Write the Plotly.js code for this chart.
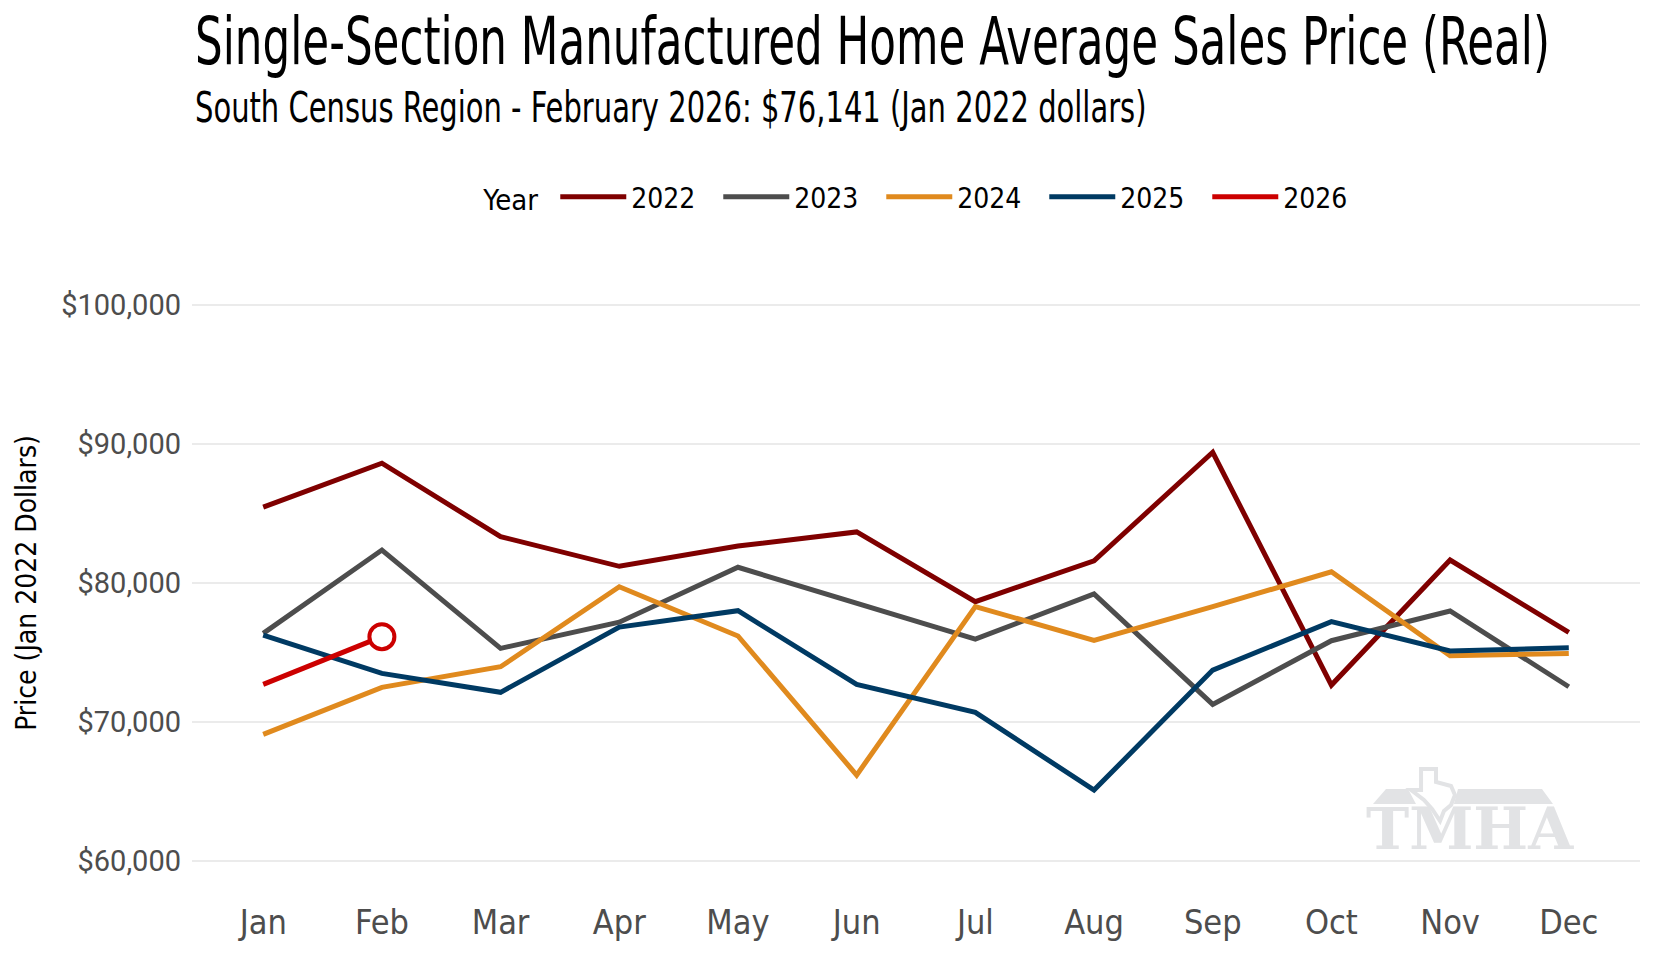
<!DOCTYPE html>
<html>
<head>
<meta charset="utf-8">
<script src="https://cdn.plot.ly/plotly-3.0.1.min.js"></script>
<style>
  html, body { margin: 0; padding: 0; background: #fff; }
  #chart { width: 1660px; height: 960px; }
</style>
</head>
<body>
<div id="chart"></div>
<script>
// monthly average sales price, Jan 2022 dollars
const months = ["Jan", "Feb", "Mar", "Apr", "May", "Jun", "Jul", "Aug", "Sep", "Oct", "Nov", "Dec"];
const years = ["2022", "2023", "2024", "2025", "2026"];
const price2022 = [85450, 88610, 83330, 81200, 82660, 83670, 78660, 81600, 89400, 72660, 81650, 76450];
const price2023 = [76380, 82370, 75300, 77180, 81130, 78580, 75970, 79210, 71270, 75850, 77990, 72540];
const price2024 = [69120, 72500, 73980, 79730, 76190, 66190, 78300, 75880, 78300, 80810, 74770, 74940];
const price2025 = [76260, 73500, 72140, 76830, 78010, 72710, 70700, 65110, 73740, 77220, 75110, 75350];
const price2026 = [72710, 76141];
const yTicks = [60000, 70000, 80000, 90000, 100000];

const colors = ["#7f0000", "#4d4d4d", "#e08a1e", "#003a63", "#cc0000"];
const series = [price2022, price2023, price2024, price2025, price2026];
const FONT = "'DejaVu Sans Condensed', 'DejaVu Sans', sans-serif";
const W = 1660, H = 960;
const M = { l: 192, r: 20, t: 277, b: 71 };

const traces = series.map((vals, i) => ({
  x: months.slice(0, vals.length),
  y: vals,
  name: years[i],
  type: "scatter",
  mode: "lines",
  line: { color: colors[i], width: 5 },
  hoverinfo: "skip",
}));

// latest point gets the open circle
const last = price2026.length - 1;
traces.push({
  x: [months[last]],
  y: [price2026[last]],
  type: "scatter",
  mode: "markers",
  showlegend: false,
  marker: { size: 25, color: "#ffffff", line: { color: "#cc0000", width: 4 } },
  hoverinfo: "skip",
});

// pixel -> paper helpers for the watermark
const px = (v) => (v - M.l) / (W - M.l - M.r);
const py = (v) => (H - M.b - v) / (H - M.t - M.b);
function poly(pts, close) {
  return pts.map((p, i) => (i ? "L " : "M ") + px(p[0]).toFixed(4) + " " + py(p[1]).toFixed(4)).join(" ") + (close ? " Z" : "");
}
const LOGO = "#e2e3e5";

const layout = {
  width: W,
  height: H,
  paper_bgcolor: "#ffffff",
  plot_bgcolor: "#ffffff",
  margin: M,
  font: { family: FONT, color: "#000000" },
  title: {
    text: "Single-Section Manufactured Home Average Sales Price (Real)",
    font: { family: FONT, size: 66, color: "#000000" },
    subtitle: {
      text: "South Census Region - February 2026: $76,141 (Jan 2022 dollars)",
      font: { family: FONT, size: 42, color: "#000000" },
    },
    xref: "paper", x: 0, xanchor: "left",
    yref: "container", y: 1 - 10 / H, yanchor: "top",
  },
  annotations: [
    {
      text: "<b>TMHA</b>",
      xref: "paper", x: px(1470), xanchor: "center",
      yref: "paper", y: py(829), yanchor: "middle",
      showarrow: false,
      font: { family: "'DejaVu Serif', serif", size: 58, color: LOGO },
    },
  ],
  shapes: [
    {
      // watermark roof, left piece
      type: "path", xref: "paper", yref: "paper", layer: "below",
      path: poly([[1373, 804], [1386, 789], [1408, 789], [1416, 804]], true),
      fillcolor: LOGO, line: { width: 0 },
    },
    {
      // watermark roof, right piece
      type: "path", xref: "paper", yref: "paper", layer: "below",
      path: poly([[1454, 804], [1458, 789], [1542, 789], [1553, 804]], true),
      fillcolor: LOGO, line: { width: 0 },
    },
    {
      // watermark texas outline
      type: "path", xref: "paper", yref: "paper", layer: "below",
      path: poly([[1421, 769], [1436, 769], [1436, 782], [1451, 786], [1455, 795],
                  [1451, 805], [1444, 811], [1440, 821], [1432, 809], [1424, 800],
                  [1411, 790], [1421, 790]], true),
      fillcolor: "rgba(0,0,0,0)", line: { color: LOGO, width: 4 },
    },
  ],
  showlegend: true,
  legend: {
    orientation: "h",
    x: 0.507, xanchor: "center",
    y: py(197), yanchor: "middle",
    title: { text: "Year ", font: { family: FONT, size: 29, color: "#000000" } },
    font: { family: FONT, size: 28, color: "#000000" },
    itemwidth: 66,
    entrywidth: 82,
    entrywidthmode: "pixels",
    traceorder: "normal",
  },
  xaxis: {
    type: "category",
    categoryorder: "array",
    categoryarray: months,
    range: [-0.6, 11.6],
    showgrid: false,
    zeroline: false,
    showline: false,
    ticks: "",
    ticklabelstandoff: 10,
    tickfont: { family: FONT, size: 34, color: "#4d4d4d" },
  },
  yaxis: {
    range: [58000, 102000],
    tickvals: yTicks,
    tickformat: "$,.0f",
    showgrid: true,
    gridcolor: "#ebebeb",
    gridwidth: 2,
    zeroline: false,
    showline: false,
    ticks: "",
    ticklabelstandoff: 10,
    tickfont: { family: "Roboto, sans-serif", size: 29, color: "#4d4d4d" },
    title: {
      text: "Price (Jan 2022 Dollars)",
      font: { family: FONT, size: 28, color: "#000000" },
      standoff: 16,
    },
  },
};

// set a headline at a baseline and squeeze it to the reference's narrow width
function place(node, x, baseline, width) {
  if (!node) return;
  node.setAttribute("text-anchor", "start");
  node.setAttribute("x", x);
  node.setAttribute("y", baseline);
  node.removeAttribute("dy");
  node.querySelectorAll("tspan").forEach((t) => {
    t.setAttribute("x", x);
    t.removeAttribute("dy");
  });
  const k = width / node.getComputedTextLength();
  node.setAttribute("transform", `translate(${x} 0) scale(${k.toFixed(4)} 1) translate(${-x} 0)`);
}

Plotly.newPlot("chart", traces, layout, { staticPlot: true, displayModeBar: false }).then((gd) => {
  place(gd.querySelector(".gtitle"), 195, 64, 1355);
  place(gd.querySelector(".gtitle-subtitle"), 195, 122, 952);
});
</script>
</body>
</html>
